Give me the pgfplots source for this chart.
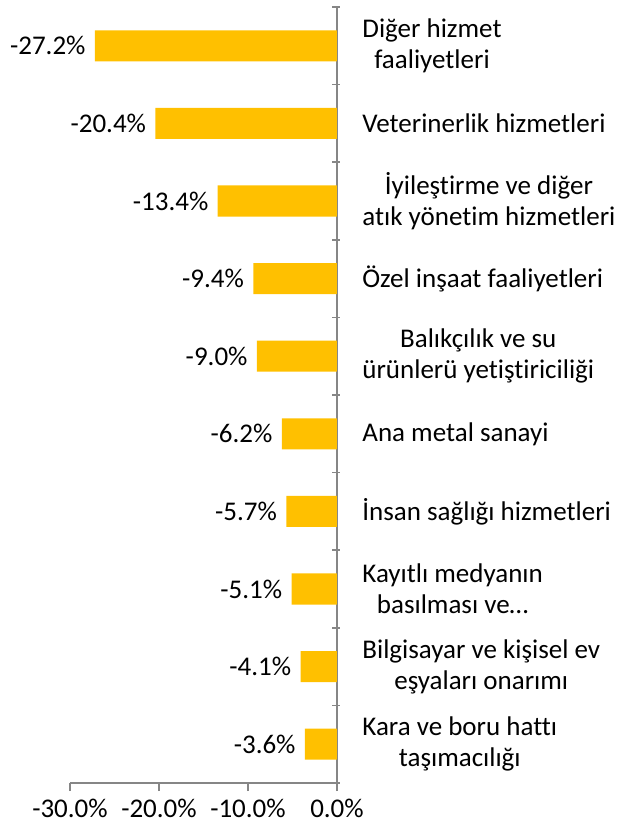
\documentclass[border=0pt]{standalone}
\usepackage{fontspec}
\setmainfont{Carlito}[Ligatures={NoCommon,NoContextual}]
\usepackage{pgfplots}
\pgfplotsset{compat=1.18}
\definecolor{bargold}{HTML}{FFC000}
\definecolor{axgrey}{HTML}{868686}
\newcommand{\chfont}{\fontsize{13.5}{15.5}\selectfont}
\begin{document}
\chfont
\begin{tikzpicture}
\useasboundingbox (-35pt,-26pt) rectangle (277.5pt,391.5pt);
\begin{axis}[
  scale only axis, width=133.5pt, height=388pt,
  at={(0,0)}, anchor=south west,
  xbar, bar width=0.4,
  xmin=-30, xmax=0,
  ymin=-0.5, ymax=9.5, y dir=reverse,
  axis x line*=bottom, axis y line*=right,
  x axis line style={-, draw=axgrey, line width=0.75pt},
  y axis line style={-, draw=axgrey, line width=0.75pt},
  tick align=outside,
  major tick length=4pt,
  tick style={draw=axgrey, line width=0.75pt},
  xtick={-30,-20,-10,0},
  xticklabel={\pgfmathprintnumber[fixed,fixed zerofill,precision=1]{\tick}\%},
  xticklabel style={font=\chfont, yshift=0.5pt},
  ytick={-0.5,0.5,...,9.5},
  yticklabels={},
  y tick style={xshift=-2.5pt},
  extra y ticks={0,1,2,3,4,5,6,7,8,9},
  extra y tick labels={{Diğer hizmet\\faaliyetleri},{Veterinerlik hizmetleri},{İyileştirme ve diğer\\atık yönetim hizmetleri},{Özel inşaat faaliyetleri},{Balıkçılık ve su\\ürünlerü yetiştiriciliği},{Ana metal sanayi},{İnsan sağlığı hizmetleri},{Kayıtlı medyanın\\basılması ve…},{Bilgisayar ve kişisel ev\\eşyaları onarımı},{Kara ve boru hattı\\taşımacılığı}},
  extra y tick style={tick style={draw=none}, yticklabel style={anchor=west, align=center, inner sep=0pt, xshift=8.5pt, font=\chfont}},
  /pgf/number format/assume math mode=true,
  nodes near coords={\pgfmathprintnumber[fixed,fixed zerofill,precision=1]{\pgfplotspointmeta}\%},
  nodes near coords style={anchor=east, inner sep=0pt, xshift=-4.5pt, font=\chfont, text=black},
  point meta=x,
]
\addplot[fill=bargold, draw=none] coordinates {
(-27.2,0) (-20.4,1) (-13.4,2) (-9.4,3) (-9.0,4) (-6.2,5) (-5.7,6) (-5.1,7) (-4.1,8) (-3.6,9)
};
\end{axis}
\end{tikzpicture}
\end{document}
